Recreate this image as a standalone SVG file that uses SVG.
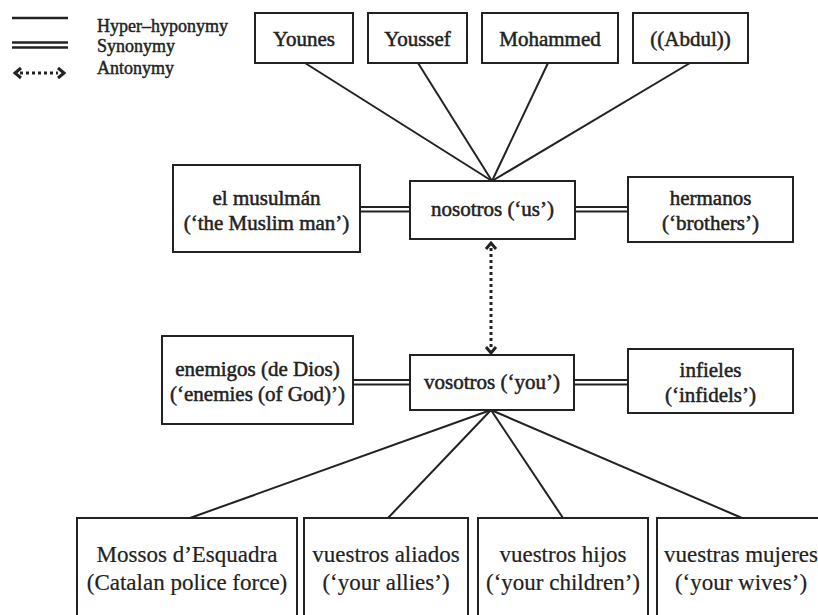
<svg xmlns="http://www.w3.org/2000/svg" width="818" height="615" viewBox="0 0 818 615">
<style>
.box{fill:#fff;stroke:#222;stroke-width:2}
.t{font-family:"Liberation Serif","Times New Roman",serif;fill:#222;text-anchor:middle}
.up{font-size:21px;stroke:#222;stroke-width:0.5}
.lo{font-size:23px;stroke:#222;stroke-width:0.2}
.lg{font-family:"Liberation Serif","Times New Roman",serif;fill:#222;font-size:18px;stroke:#222;stroke-width:0.45}
.ln{stroke:#222;stroke-width:2;fill:none}
.lgl{stroke:#222;stroke-width:2.5;fill:none}
.dot{stroke:#222;stroke-width:3;stroke-dasharray:3 3;fill:none}
.hd{stroke:#222;stroke-width:3;fill:none;stroke-linejoin:miter}
</style>
<rect width="818" height="615" fill="#fff"/>
<g id="legend">
<line class="lgl" x1="12" y1="18" x2="68" y2="18"/>
<line class="lgl" x1="12" y1="42.5" x2="68" y2="42.5"/>
<line class="lgl" x1="12" y1="47.5" x2="68" y2="47.5"/>
<line class="dot" x1="20" y1="73" x2="58" y2="73"/>
<polyline class="hd" points="21,68 15,73 21,78"/>
<polyline class="hd" points="58,68 64,73 58,78"/>
<text class="lg" x="97" y="32">Hyper–hyponymy</text>
<text class="lg" x="97" y="52">Synonymy</text>
<text class="lg" x="97" y="74">Antonymy</text>
</g>
<g id="connectors">
<line class="ln" x1="305" y1="63" x2="492" y2="181"/>
<line class="ln" x1="418" y1="63" x2="492" y2="181"/>
<line class="ln" x1="548" y1="63" x2="492" y2="181"/>
<line class="ln" x1="690" y1="63" x2="492" y2="181"/>
<line class="ln" x1="491" y1="410" x2="190" y2="518"/>
<line class="ln" x1="491" y1="410" x2="388" y2="518"/>
<line class="ln" x1="491" y1="410" x2="563" y2="518"/>
<line class="ln" x1="491" y1="410" x2="742" y2="518"/>
<line class="ln" x1="360" y1="207" x2="410" y2="207"/>
<line class="ln" x1="360" y1="211.5" x2="410" y2="211.5"/>
<line class="ln" x1="575" y1="207" x2="628" y2="207"/>
<line class="ln" x1="575" y1="211.5" x2="628" y2="211.5"/>
<line class="ln" x1="353" y1="380" x2="410" y2="380"/>
<line class="ln" x1="353" y1="384.5" x2="410" y2="384.5"/>
<line class="ln" x1="574" y1="380" x2="628" y2="380"/>
<line class="ln" x1="574" y1="384.5" x2="628" y2="384.5"/>
<line class="dot" x1="491" y1="248" x2="491" y2="348"/>
<polyline class="hd" points="486,249 491,243 496,249"/>
<polyline class="hd" points="486,347 491,353 496,347"/>
</g>
<g id="younes"><rect class="box" x="255" y="13" width="98" height="50"/><text class="t up" x="304" y="46">Younes</text></g>
<g id="youssef"><rect class="box" x="368" y="13" width="99" height="50"/><text class="t up" x="417.5" y="46">Youssef</text></g>
<g id="mohammed"><rect class="box" x="482" y="13" width="136" height="50"/><text class="t up" x="550" y="46">Mohammed</text></g>
<g id="abdul"><rect class="box" x="633" y="13" width="115" height="50"/><text class="t up" x="690.5" y="46">((Abdul))</text></g>
<g id="musulman"><rect class="box" x="173" y="165" width="187" height="87"/><text class="t up" x="266.5" y="205">el musulmán</text><text class="t up" x="266.5" y="230">(‘the Muslim man’)</text></g>
<g id="nosotros"><rect class="box" x="410" y="181" width="165" height="58"/><text class="t up" x="492.5" y="216">nosotros (‘us’)</text></g>
<g id="hermanos"><rect class="box" x="628" y="177" width="165" height="65"/><text class="t up" x="710.5" y="205">hermanos</text><text class="t up" x="710.5" y="230">(‘brothers’)</text></g>
<g id="enemigos"><rect class="box" x="162" y="336" width="191" height="88"/><text class="t up" x="257.5" y="376">enemigos (de Dios)</text><text class="t up" x="257.5" y="401">(‘enemies (of God)’)</text></g>
<g id="vosotros"><rect class="box" x="410" y="355" width="164" height="55"/><text class="t up" x="492" y="389">vosotros (‘you’)</text></g>
<g id="infieles"><rect class="box" x="628" y="349" width="165" height="64"/><text class="t up" x="710.5" y="377">infieles</text><text class="t up" x="710.5" y="402">(‘infidels’)</text></g>
<g id="mossos"><rect class="box" x="77" y="518" width="220" height="110"/><text class="t lo" x="187" y="562">Mossos d’Esquadra</text><text class="t lo" x="187" y="590">(Catalan police force)</text></g>
<g id="aliados"><rect class="box" x="304" y="518" width="164" height="110"/><text class="t lo" x="386" y="562">vuestros aliados</text><text class="t lo" x="386" y="590">(‘your allies’)</text></g>
<g id="hijos"><rect class="box" x="478" y="518" width="170" height="110"/><text class="t lo" x="563" y="562">vuestros hijos</text><text class="t lo" x="563" y="590">(‘your children’)</text></g>
<g id="mujeres"><rect class="box" x="657" y="518" width="175" height="110"/><text class="t lo" x="741" y="562">vuestras mujeres</text><text class="t lo" x="741" y="590">(‘your wives’)</text></g>
</svg>
